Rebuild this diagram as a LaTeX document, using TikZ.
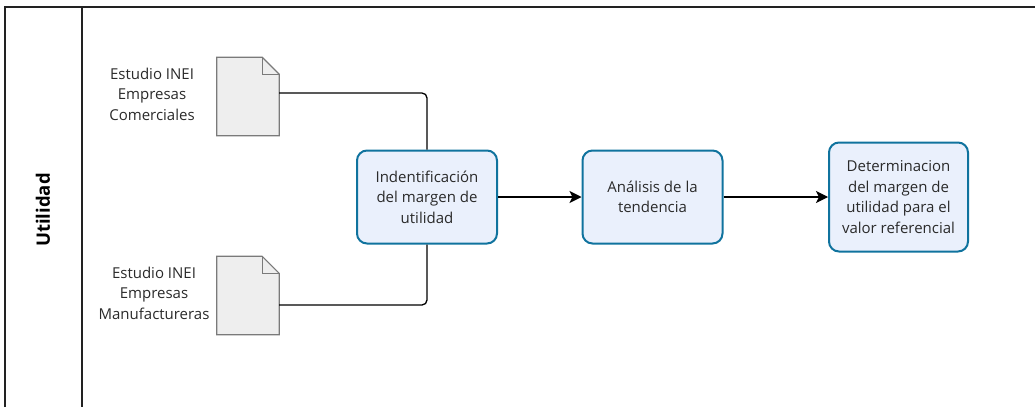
\documentclass[tikz,border=0pt]{standalone}
\usepackage{fontspec}
\setmainfont{Open Sans}
\usetikzlibrary{arrows.meta}
\definecolor{boxfill}{HTML}{EAF0FC}
\definecolor{boxline}{HTML}{10739E}
\definecolor{docfill}{HTML}{EEEEEE}
\definecolor{docline}{HTML}{7A7A7A}
\definecolor{txt}{HTML}{2A2A2A}
\definecolor{frame}{HTML}{222222}
\begin{document}
\begin{tikzpicture}[x=1pt,y=-1pt,
  proc/.style={draw=boxline,fill=boxfill,line width=2pt,rounded corners=10pt,align=center,text=txt,
    font=\fontsize{15}{20.5}\selectfont,inner sep=0pt,minimum width=140pt},
  docnode/.style={minimum width=62pt,minimum height=78pt,inner sep=0pt},
  docshape/.style={draw=docline,fill=docfill,line width=1.2pt,line join=miter},
  lbl/.style={align=center,text=txt,font=\fontsize{15}{20.5}\selectfont,inner sep=0pt},
  conn/.style={draw=black,line width=1.3pt,rounded corners=5pt},
  arr/.style={draw=black,line width=1.3pt,-{Stealth[length=12pt,width=12pt,inset=3pt]}},
  frm/.style={draw=frame,line width=1.3pt}
]
\useasboundingbox (0,0) rectangle (1035,407);
% frame
\draw[frm] (5,407) -- (5,7) -- (1035,7);
\draw[frm] (82,7) -- (82,407);
\node[rotate=90,font=\bfseries\fontsize{18.5}{22}\selectfont,text=black] (lane) at (43,210) {Utilidad};

% documents
\node[docnode] (d1) at (248,96.5) {};
\node[docnode] (d2) at (248,295.5) {};
\foreach \d in {d1,d2}{
  \path[docshape] (\d.north west) -- ([xshift=-17pt]\d.north east) -- ([yshift=-17pt]\d.north east)
     -- (\d.south east) -- (\d.south west) -- cycle;
  \draw[docline,line width=1.2pt] ([xshift=-17pt]\d.north east) |- ([yshift=-17pt]\d.north east);
}
\node[lbl] (l1) at (152,94) {Estudio INEI\\Empresas\\Comerciales};
\node[lbl] (l2) at (154,293) {Estudio INEI\\Empresas\\Manufactureras};

% process boxes
\node[proc,minimum height=93pt] (b1) at (427,197) {Indentificación\\del margen de\\utilidad};
\node[proc,minimum height=93pt] (b2) at (652.5,197) {Análisis de la\\tendencia};
\node[proc,minimum height=109pt,minimum width=139pt] (b3) at (898.5,197) {Determinacion\\del margen de\\utilidad para el\\valor referencial};

% connectors
\draw[conn] (d1.east |- 0,93) -| (b1.north);
\draw[conn] (d2.east |- 0,305) -| (b1.south);
\draw[arr] (b1) -- (b2);
\draw[arr] (b2) -- (b3);
\end{tikzpicture}
\end{document}
